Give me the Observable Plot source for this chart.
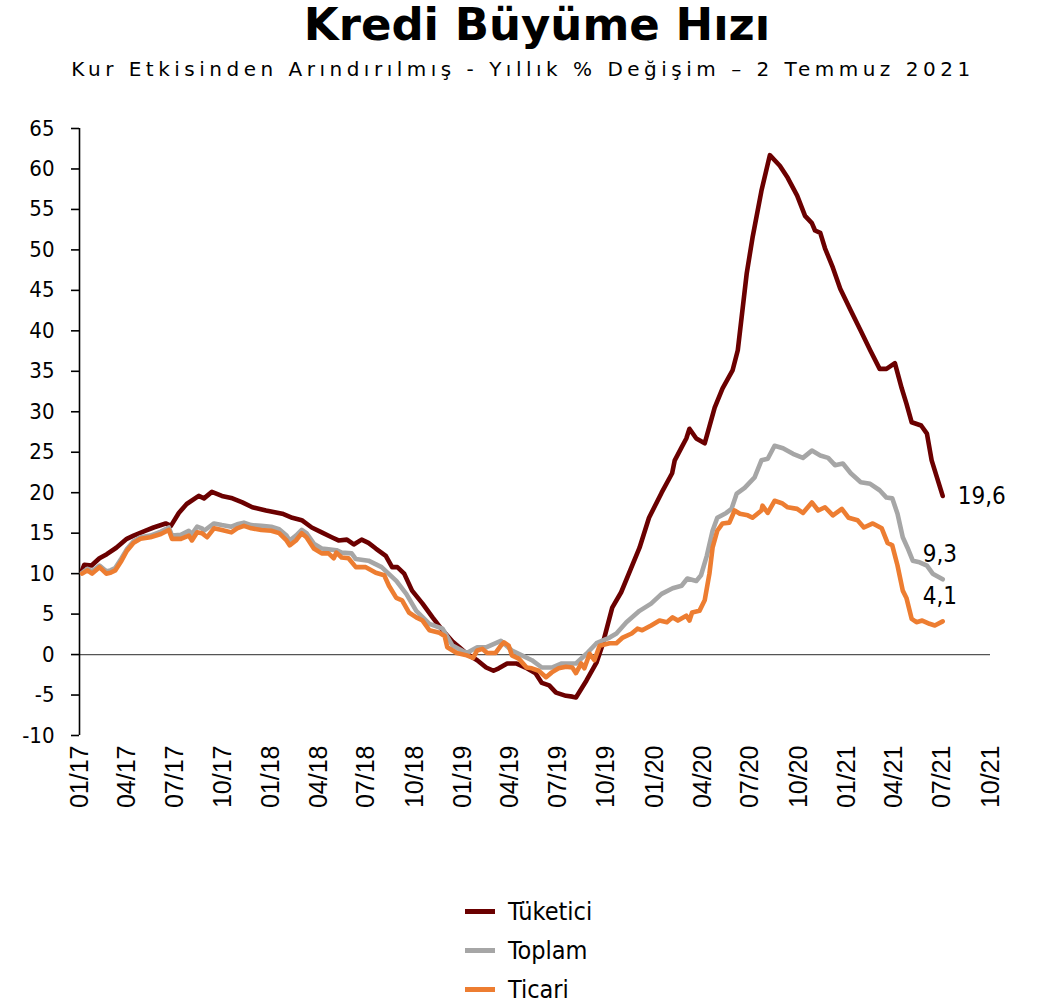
<!DOCTYPE html>
<html>
<head>
<meta charset="utf-8">
<script src="https://cdn.jsdelivr.net/npm/d3@7"></script>
<script src="https://cdn.jsdelivr.net/npm/@observablehq/plot@0.6"></script>
<style>
  body { margin: 0; background: #fff; width: 1046px; height: 1004px; position: relative; overflow: hidden; }
  #title { position: absolute; left: 14px; width: 1046px; top: 2px; text-align: center;
    font-family: "DejaVu Sans", sans-serif; font-weight: bold; font-size: 45px; line-height: 46px; color: #000; }
  #subtitle { position: absolute; left: 0; width: 1046px; top: 54px; text-align: center;
    font-family: "DejaVu Sans", sans-serif; font-size: 20px; letter-spacing: 4.5px; line-height: 30px; color: #000; }
  #chart { position: absolute; left: 0; top: 100px; }
  #legend { position: absolute; left: 465px; top: 892px; font-family: "DejaVu Sans Condensed", "DejaVu Sans", sans-serif; font-size: 25px; color: #000; }
  .row { display: flex; align-items: center; height: 39px; }
  .sw { width: 30px; height: 5px; margin-right: 13px; }
</style>
</head>
<body>
<div id="title">Kredi Büyüme Hızı</div>
<div id="subtitle">Kur Etkisinden Arındırılmış - Yıllık % Değişim – 2 Temmuz 2021</div>
<div id="chart"></div>
<div id="legend"></div>
<script>
const seriesNames = ["Tüketici", "Toplam", "Ticari"];
const seriesColors = ["#6B0000", "#A6A6A6", "#ED7D31"];
const yTickValues = [-10, -5, 0, 5, 10, 15, 20, 25, 30, 35, 40, 45, 50, 55, 60, 65];
const xTickLabels = ["01/17","04/17","07/17","10/17","01/18","04/18","07/18","10/18","01/19","04/19","07/19","10/19","01/20","04/20","07/20","10/20","01/21","04/21","07/21","10/21"];
const xTickDates = ["2017-01-01","2017-04-01","2017-07-01","2017-10-01","2018-01-01","2018-04-01","2018-07-01","2018-10-01","2019-01-01","2019-04-01","2019-07-01","2019-10-01","2020-01-01","2020-04-01","2020-07-01","2020-10-01","2021-01-01","2021-04-01","2021-07-01","2021-10-01"];

const tuketiciDates = ["2017-01-06","2017-01-10","2017-01-24","2017-02-08","2017-02-22","2017-03-12","2017-04-01","2017-04-14","2017-05-07","2017-05-22","2017-06-14","2017-06-24","2017-07-09","2017-07-24","2017-08-16","2017-08-26","2017-09-10","2017-09-29","2017-10-19","2017-11-07","2017-11-26","2017-12-22","2018-01-22","2018-02-10","2018-02-28","2018-03-19","2018-04-07","2018-04-26","2018-05-09","2018-05-25","2018-06-07","2018-06-22","2018-07-05","2018-07-19","2018-08-07","2018-08-19","2018-08-29","2018-09-11","2018-09-26","2018-10-16","2018-11-04","2018-11-23","2018-12-12","2018-12-25","2019-01-08","2019-01-28","2019-02-14","2019-02-28","2019-03-10","2019-03-26","2019-04-12","2019-04-30","2019-05-19","2019-05-31","2019-06-14","2019-06-27","2019-07-16","2019-07-28","2019-08-04","2019-08-24","2019-09-12","2019-09-23","2019-10-12","2019-10-29","2019-12-03","2019-12-21","2020-01-14","2020-02-03","2020-02-08","2020-02-21","2020-03-01","2020-03-07","2020-03-20","2020-04-05","2020-04-24","2020-05-09","2020-05-28","2020-06-07","2020-06-24","2020-07-05","2020-07-22","2020-08-07","2020-08-26","2020-09-10","2020-09-28","2020-10-13","2020-10-26","2020-11-01","2020-11-11","2020-11-20","2020-12-05","2020-12-19","2021-01-08","2021-01-27","2021-02-14","2021-03-04","2021-03-17","2021-04-02","2021-04-15","2021-04-24","2021-05-04","2021-05-22","2021-06-02","2021-06-11","2021-07-02"];
const tuketiciValues = [10.4,11.1,11.0,11.9,12.4,13.2,14.3,14.7,15.3,15.7,16.2,15.9,17.5,18.6,19.6,19.3,20.1,19.6,19.3,18.8,18.2,17.8,17.4,16.9,16.6,15.7,15.1,14.5,14.1,14.2,13.6,14.2,13.8,13.1,12.2,10.8,10.8,10.0,7.9,6.3,4.6,3.0,1.6,0.9,0.1,-0.7,-1.6,-2.0,-1.7,-1.1,-1.1,-1.6,-2.3,-3.5,-3.8,-4.7,-5.1,-5.2,-5.3,-3.2,-1.0,1.1,5.8,7.7,13.2,16.9,20.0,22.4,24.0,25.6,26.7,27.9,26.7,26.1,30.5,32.9,35.1,37.6,47.1,51.5,57.3,61.7,60.4,58.9,56.7,54.2,53.3,52.4,52.1,50.2,47.8,45.2,42.5,40.0,37.6,35.3,35.3,36.0,32.9,31.0,28.7,28.3,27.3,24.0,19.6];

const toplamDates = ["2017-01-06","2017-01-16","2017-01-25","2017-02-08","2017-02-21","2017-03-01","2017-03-10","2017-03-22","2017-04-01","2017-04-14","2017-04-27","2017-05-16","2017-06-05","2017-06-20","2017-06-26","2017-07-13","2017-07-28","2017-08-03","2017-08-13","2017-08-22","2017-08-26","2017-09-14","2017-09-29","2017-10-17","2017-10-28","2017-11-10","2017-11-24","2017-12-13","2018-01-01","2018-01-16","2018-01-30","2018-02-05","2018-02-17","2018-02-28","2018-03-09","2018-03-23","2018-04-07","2018-04-20","2018-05-05","2018-05-15","2018-06-03","2018-06-11","2018-07-05","2018-07-30","2018-08-27","2018-09-15","2018-10-04","2018-10-29","2018-11-23","2018-12-12","2019-01-08","2019-01-28","2019-02-14","2019-03-14","2019-04-04","2019-04-23","2019-05-12","2019-05-31","2019-06-19","2019-07-08","2019-08-04","2019-08-24","2019-09-12","2019-10-07","2019-10-20","2019-11-08","2019-12-03","2019-12-25","2020-01-14","2020-02-04","2020-02-21","2020-03-03","2020-03-20","2020-03-29","2020-04-09","2020-04-20","2020-04-29","2020-05-16","2020-05-26","2020-06-05","2020-06-20","2020-07-09","2020-07-22","2020-08-03","2020-08-16","2020-09-01","2020-09-20","2020-10-09","2020-10-26","2020-11-11","2020-11-26","2020-12-09","2020-12-24","2021-01-08","2021-01-27","2021-02-14","2021-03-04","2021-03-17","2021-03-28","2021-04-07","2021-04-17","2021-04-26","2021-05-06","2021-05-19","2021-06-02","2021-06-13","2021-07-02"];
const toplamValues = [10.1,10.6,10.3,11.0,10.3,10.4,10.7,11.9,13.0,14.0,14.5,14.7,15.2,15.7,14.7,14.8,15.3,14.9,15.8,15.6,15.3,16.2,16.0,15.8,16.1,16.3,16.0,15.9,15.8,15.5,14.7,14.1,14.7,15.4,15.0,13.7,13.1,13.0,12.9,12.6,12.5,11.8,11.6,10.8,9.1,7.5,5.4,3.8,3.2,1.1,0.2,0.9,0.9,1.7,0.5,-0.1,-0.7,-1.6,-1.6,-1.1,-1.1,0.1,1.4,2.1,2.6,4.0,5.4,6.3,7.5,8.2,8.5,9.4,9.1,9.8,12.2,15.3,16.9,17.5,18.0,19.9,20.6,21.9,24.0,24.2,25.8,25.5,24.8,24.3,25.2,24.6,24.3,23.4,23.6,22.4,21.3,21.1,20.3,19.4,19.3,17.4,14.5,13.2,11.6,11.4,11.0,10.0,9.3];

const ticariDates = ["2017-01-06","2017-01-16","2017-01-25","2017-02-08","2017-02-21","2017-03-01","2017-03-10","2017-03-22","2017-04-01","2017-04-14","2017-04-27","2017-05-16","2017-06-05","2017-06-20","2017-06-26","2017-07-13","2017-07-28","2017-08-03","2017-08-13","2017-08-22","2017-09-01","2017-09-14","2017-09-29","2017-10-17","2017-10-28","2017-11-10","2017-11-24","2017-12-13","2018-01-01","2018-01-16","2018-01-30","2018-02-05","2018-02-17","2018-02-28","2018-03-09","2018-03-23","2018-04-07","2018-04-20","2018-04-30","2018-05-05","2018-05-15","2018-05-28","2018-06-11","2018-06-30","2018-07-19","2018-08-04","2018-08-13","2018-08-27","2018-09-07","2018-09-20","2018-10-04","2018-10-16","2018-10-29","2018-11-17","2018-11-27","2018-12-02","2018-12-20","2019-01-08","2019-01-20","2019-01-28","2019-02-07","2019-02-16","2019-03-04","2019-03-14","2019-03-20","2019-03-29","2019-04-04","2019-04-17","2019-05-02","2019-05-12","2019-05-25","2019-06-08","2019-06-19","2019-07-02","2019-07-16","2019-07-28","2019-08-04","2019-08-14","2019-08-20","2019-08-30","2019-09-08","2019-09-18","2019-10-07","2019-10-20","2019-11-01","2019-11-18","2019-11-29","2019-12-08","2019-12-25","2020-01-10","2020-01-24","2020-02-04","2020-02-14","2020-03-01","2020-03-07","2020-03-12","2020-03-26","2020-04-05","2020-04-14","2020-04-20","2020-04-29","2020-05-09","2020-05-22","2020-06-01","2020-06-11","2020-06-26","2020-07-05","2020-07-22","2020-07-24","2020-08-03","2020-08-16","2020-08-30","2020-09-10","2020-09-28","2020-10-09","2020-10-26","2020-11-07","2020-11-20","2020-12-05","2020-12-22","2021-01-04","2021-01-21","2021-02-02","2021-02-19","2021-03-08","2021-03-19","2021-03-28","2021-04-07","2021-04-17","2021-04-24","2021-05-04","2021-05-13","2021-05-24","2021-06-07","2021-06-17","2021-07-02"];
const ticariValues = [10.0,10.4,10.0,10.8,10.0,10.1,10.4,11.6,12.8,13.8,14.3,14.5,14.9,15.4,14.3,14.3,14.7,14.1,15.1,15.0,14.5,15.6,15.4,15.1,15.6,15.9,15.6,15.4,15.3,15.0,14.1,13.5,14.1,15.0,14.5,13.1,12.5,12.5,11.9,12.6,12.0,11.9,10.8,10.8,10.1,9.8,8.5,7.0,6.7,5.2,4.6,4.2,3.0,2.7,2.3,0.9,0.2,-0.1,-0.4,0.5,0.7,0.2,0.2,1.1,1.5,1.1,-0.1,-0.5,-1.6,-1.7,-2.0,-2.8,-2.2,-1.7,-1.5,-1.6,-2.3,-1.1,-1.7,0.1,-0.7,1.1,1.4,1.4,2.1,2.6,3.2,3.0,3.6,4.2,4.0,4.6,4.2,4.8,4.2,5.2,5.4,6.7,10.0,13.2,15.3,16.2,16.3,17.8,17.4,17.2,16.9,17.8,18.4,17.5,19.0,18.7,18.2,18.0,17.5,18.8,17.8,18.2,17.2,18.0,16.9,16.6,15.7,16.2,15.6,13.8,13.5,11.0,7.9,7.0,4.4,4.0,4.2,3.8,3.6,4.1];

const seriesDates = [tuketiciDates, toplamDates, ticariDates];
const seriesValues = [tuketiciValues, toplamValues, ticariValues];

const rows = [];
seriesNames.forEach((name, i) => {
  seriesDates[i].forEach((d, j) => rows.push({series: name, date: new Date(d), value: seriesValues[i][j]}));
});
const lastPoints = seriesNames.map((name, i) => ({
  series: name,
  date: new Date(seriesDates[i][seriesDates[i].length - 1]),
  value: seriesValues[i][seriesValues[i].length - 1]
}));
const fmt = v => v.toFixed(1).replace(".", ",");
const xTicks = xTickDates.map(d => new Date(d));
const xLabelMap = new Map(xTickDates.map((d, i) => [new Date(d).getTime(), xTickLabels[i]]));
const xStart = new Date("2017-01-01");
const xEnd = new Date("2021-10-01");

const labelFont = '"DejaVu Sans Condensed", "DejaVu Sans", sans-serif';

const chart = Plot.plot({
  width: 1046,
  height: 740,
  marginLeft: 79,
  marginRight: 56,
  marginTop: 28,
  marginBottom: 105,
  style: {background: "#fff", color: "#000", fontFamily: labelFont, overflow: "visible"},
  x: {type: "utc", domain: [xStart, xEnd]},
  y: {domain: [-10, 65]},
  color: {domain: seriesNames, range: seriesColors},
  marks: [
    Plot.ruleY([0], {x1: xStart, x2: xEnd, stroke: "#555", strokeWidth: 1.2}),
    Plot.ruleX([xStart], {y1: -10, y2: 65, stroke: "#000", strokeWidth: 1.6}),
    Plot.axisY({ticks: yTickValues, tickSize: 8, tickPadding: 17, fontSize: 22, tickFormat: d => String(d), label: null, stroke: "#000", strokeWidth: 1.6}),
    Plot.axisX({ticks: xTicks, tickSize: 0, tickPadding: 10, tickRotate: -90, fontSize: 25, fontFamily: '"Liberation Sans", Arial, sans-serif', tickFormat: d => xLabelMap.get(d.getTime()), label: null}),
    Plot.line(rows, {x: "date", y: "value", z: "series", stroke: "series", strokeWidth: 4.6, strokeLinejoin: "round", strokeLinecap: "round"}),
    Plot.text([lastPoints[0]], {x: "date", y: "value", text: d => fmt(d.value), dx: 15, dy: 0, textAnchor: "start", fontSize: 24, fill: "#000"}),
    Plot.text([lastPoints[1]], {x: "date", y: "value", text: d => fmt(d.value), dx: -20, dy: -25, textAnchor: "start", fontSize: 24, fill: "#000"}),
    Plot.text([lastPoints[2]], {x: "date", y: "value", text: d => fmt(d.value), dx: -20, dy: -25, textAnchor: "start", fontSize: 24, fill: "#000"})
  ]
});
document.getElementById("chart").appendChild(chart);

const legend = document.getElementById("legend");
seriesNames.forEach((name, i) => {
  const row = document.createElement("div");
  row.className = "row";
  const sw = document.createElement("span");
  sw.className = "sw";
  sw.style.background = seriesColors[i];
  const tx = document.createElement("span");
  tx.textContent = name;
  row.appendChild(sw);
  row.appendChild(tx);
  legend.appendChild(row);
});
</script>
</body>
</html>
